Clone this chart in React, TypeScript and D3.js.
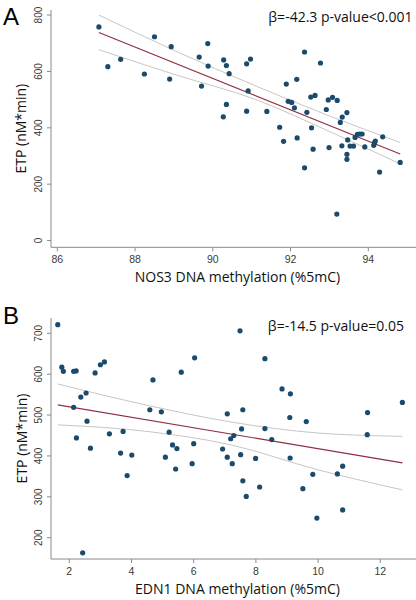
import React from "react";
import * as d3 from "d3";

// ---------- Panel A: NOS3 ----------
const nos3X = [87.07,87.30,87.63,88.24,88.50,88.89,88.93,89.65,89.71,89.87,89.88,90.28,90.35,90.42,90.35,90.27,90.87,90.97,90.91,90.87,
  91.39,91.72,91.82,91.89,92.16,91.94,92.03,92.10,92.36,92.77,92.42,92.17,92.54,92.58,92.36,92.52,92.63,92.97,93.08,93.20,92.92,92.99,
  93.45,93.33,93.28,93.32,93.47,93.45,93.45,93.53,93.62,93.66,93.72,93.78,93.84,93.91,94.14,94.16,94.18,94.37,94.82,94.29,93.19];
const nos3Y = [758,617,643,591,723,573,688,651,548,699,619,641,621,592,483,439,627,644,531,459,
  458,402,352,555,572,494,490,471,669,630,455,364,400,324,258,509,515,499,508,497,465,330,
  454,438,419,336,357,306,288,335,335,366,377,378,378,332,338,347,353,368,277,243,94];
const fitAX = [87.07, 94.82];
const fitAY = [738, 307];
const ciAX = [87.07, 89.0, 91.15, 93.0, 94.82];
const ciALower = [677, 590, 498, 387, 272];
const ciAUpper = [800, 675, 546, 442, 348];
const nos3Ticks = [86, 88, 90, 92, 94];
const etpTicksA = [0, 200, 400, 600, 800];

// ---------- Panel B: EDN1 ----------
const edn1X = [1.63,1.76,1.81,2.14,2.22,2.83,3.00,3.13,4.69,5.60,6.03,2.37,2.54,2.14,2.57,2.23,2.68,3.29,3.73,3.65,4.01,3.86,4.59,4.96,5.21,5.32,5.46,5.09,5.42,6.00,5.95,7.08,6.93,7.08,2.43,
  7.49,8.29,8.84,9.11,7.58,9.09,9.62,11.59,12.71,11.58,7.54,8.29,8.51,7.19,7.29,7.51,7.24,7.99,9.10,7.58,7.69,8.12,9.51,9.83,10.62,10.79,10.79,9.96];
const edn1Y = [721,617,607,607,608,603,623,630,586,605,640,544,554,519,485,444,419,454,460,407,402,352,513,508,458,427,418,397,368,430,381,503,417,397,163,
  706,638,564,552,513,494,484,506,531,452,466,467,440,442,450,403,381,394,395,339,301,324,320,355,356,375,268,248];
const fitBX = [1.63, 12.71];
const fitBY = [525, 383];
const ciBX = [1.63, 4.5, 7.2, 10.0, 12.71];
const ciBLower = [476, 460, 427, 366, 317];
const ciBUpper = [576, 524, 483, 456, 448];
const edn1Ticks = [2, 4, 6, 8, 10, 12];
const etpTicksB = [200, 300, 400, 500, 600, 700];

const DOT = "#1b4a6b";
const FIT = "#8e2f41";
const CI = "#c6c6c6";
const AXIS = "#8a8a8a";
const TICKTXT = "#3a3a3a";
const TITLE_FONT = "'Open Sans', sans-serif";
const TICK_FONT = "'Liberation Sans', Arial, sans-serif";

type PanelProps = {
  letter: string;
  letterY: number;
  xs: number[];
  ys: number[];
  fitX: number[];
  fitY: number[];
  ciX: number[];
  ciLo: number[];
  ciHi: number[];
  xTicks: number[];
  yTicks: number[];
  xDomain: [number, number];
  yDomain: [number, number];
  top: number;
  bottom: number;
  xTitle: string;
  note: string;
  noteRight: number;
  noteY: number;
};

function Panel(p: PanelProps) {
  const left = 51;
  const right = 416;
  const x = d3.scaleLinear().domain(p.xDomain).range([left, right]);
  const y = d3.scaleLinear().domain(p.yDomain).range([p.bottom, p.top]);
  const line = d3
    .line<[number, number]>()
    .x((d) => x(d[0]))
    .y((d) => y(d[1]));
  const curve = d3
    .line<[number, number]>()
    .x((d) => x(d[0]))
    .y((d) => y(d[1]))
    .curve(d3.curveMonotoneX);
  const lo = p.ciX.map((v, i) => [v, p.ciLo[i]] as [number, number]);
  const hi = p.ciX.map((v, i) => [v, p.ciHi[i]] as [number, number]);
  const fit = p.fitX.map((v, i) => [v, p.fitY[i]] as [number, number]);
  const midY = (p.top + p.bottom) / 2;
  return (
    <g>
      <text x={3} y={p.letterY} fontFamily={TICK_FONT} fontSize={24} fill="#000">
        {p.letter}
      </text>
      {/* axes */}
      <line x1={left} x2={left} y1={p.top} y2={p.bottom} stroke={AXIS} strokeWidth={1} />
      <line x1={left} x2={right} y1={p.bottom} y2={p.bottom} stroke={AXIS} strokeWidth={1} />
      {p.yTicks.map((t) => (
        <g key={"y" + t}>
          <line x1={left - 4} x2={left} y1={y(t)} y2={y(t)} stroke={AXIS} />
          <text
            x={42.3}
            y={y(t)}
            transform={`rotate(-90, 42.3, ${y(t)})`}
            textAnchor="middle"
            fontFamily={TICK_FONT}
            fontSize={10}
            fill={TICKTXT}
          >
            {t}
          </text>
        </g>
      ))}
      {p.xTicks.map((t) => (
        <g key={"x" + t}>
          <line x1={x(t)} x2={x(t)} y1={p.bottom} y2={p.bottom + 4} stroke={AXIS} />
          <text
            x={x(t)}
            y={p.bottom + 16}
            textAnchor="middle"
            fontFamily={TICK_FONT}
            fontSize={10.5}
            fill={TICKTXT}
          >
            {t}
          </text>
        </g>
      ))}
      <text
        x={237.5}
        y={p.bottom + 34.5}
        textAnchor="middle"
        fontFamily={TITLE_FONT}
        fontSize={14}
        fill="#111"
      >
        {p.xTitle}
      </text>
      <text
        x={26.5}
        y={midY}
        transform={`rotate(-90, 26.5, ${midY})`}
        textAnchor="middle"
        fontFamily={TITLE_FONT}
        fontSize={14}
        fill="#111"
      >
        ETP (nM*min)
      </text>
      {/* CI and fit */}
      <path d={curve(hi) || ""} fill="none" stroke={CI} strokeWidth={1} />
      <path d={curve(lo) || ""} fill="none" stroke={CI} strokeWidth={1} />
      <path d={line(fit) || ""} fill="none" stroke={FIT} strokeWidth={1.1} />
      {/* points */}
      {p.xs.map((v, i) => (
        <circle key={i} cx={x(v)} cy={y(p.ys[i])} r={2.6} fill={DOT} />
      ))}
      <text
        x={p.noteRight}
        y={p.noteY}
        textAnchor="end"
        fontFamily={TITLE_FONT}
        fontSize={14}
        fill="#111"
      >
        {p.note}
      </text>
    </g>
  );
}

export default function App() {
  return (
    <svg
      width={416}
      height={600}
      style={{ position: "absolute", left: 0, top: 0, display: "block", background: "#fff" }}
    >
      <rect width={416} height={600} fill="#fff" />
      <Panel
        letter="A"
        letterY={25}
        xs={nos3X}
        ys={nos3Y}
        fitX={fitAX}
        fitY={fitAY}
        ciX={ciAX}
        ciLo={ciALower}
        ciHi={ciAUpper}
        xTicks={nos3Ticks}
        yTicks={etpTicksA}
        xDomain={[85.838, 95.227]}
        yDomain={[-24, 818]}
        top={10}
        bottom={247.3}
        xTitle="NOS3 DNA methylation (%5mC)"
        note="β=-42.3 p-value<0.001"
        noteRight={412.5}
        noteY={21.5}
      />
      <Panel
        letter="B"
        letterY={323.5}
        xs={edn1X}
        ys={edn1Y}
        fitX={fitBX}
        fitY={fitBY}
        ciX={ciBX}
        ciLo={ciBLower}
        ciHi={ciBUpper}
        xTicks={edn1Ticks}
        yTicks={etpTicksB}
        xDomain={[1.412, 13.148]}
        yDomain={[147.9, 737.4]}
        top={318}
        bottom={559}
        xTitle="EDN1 DNA methylation (%5mC)"
        note="β=-14.5 p-value=0.05"
        noteRight={404}
        noteY={331}
      />
    </svg>
  );
}
